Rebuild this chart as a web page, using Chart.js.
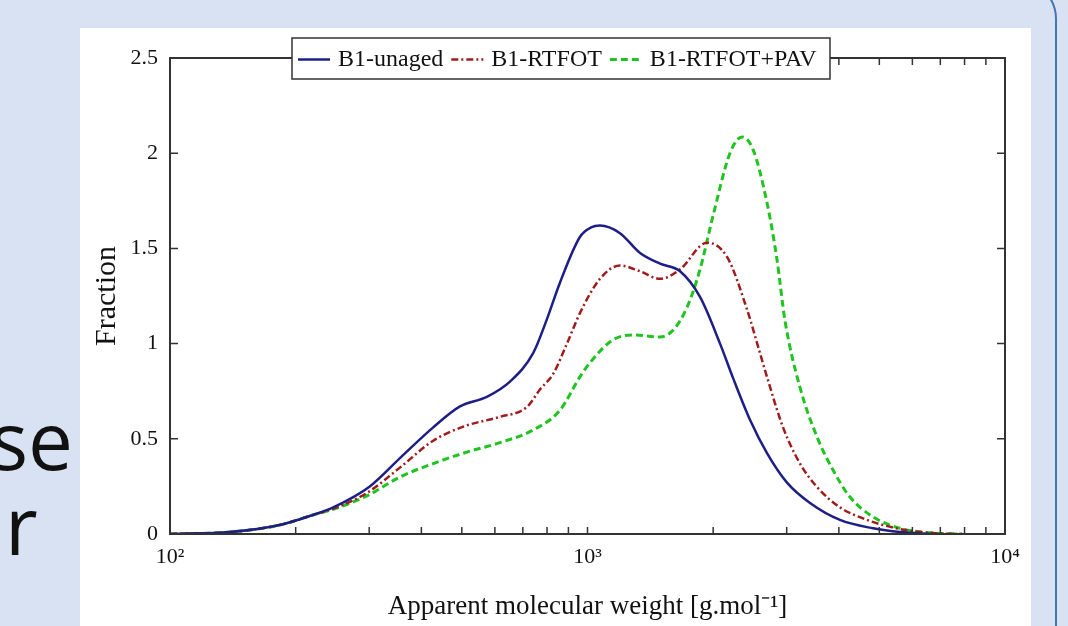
<!DOCTYPE html>
<html>
<head>
<meta charset="utf-8">
<script src="https://cdn.jsdelivr.net/npm/chart.js@4.4.1/dist/chart.umd.min.js"></script>
<style>
  html, body { margin: 0; padding: 0; }
  body { width: 1068px; height: 626px; overflow: hidden; position: relative; background: #d9e2f2; }
  .outline { position: absolute; left: -100px; top: -21px; width: 1157px; height: 800px; box-sizing: border-box;
             border: 2.5px solid #4675b0; border-radius: 40px; }
  .slide-text { position: absolute; font-family: "Open Sans", "Noto Sans", sans-serif; font-size: 80px; line-height: 1; color: #111; white-space: nowrap; }
  .photo { position: absolute; left: 80px; top: 28px; width: 951px; height: 620px; background: #fff; }
  #chart { position: absolute; left: 0; top: 0; }
</style>
</head>
<body>
<div class="outline"></div>
<div class="slide-text" style="right: 995px; top: 399px;">se</div>
<div class="slide-text" style="left: 5px; top: 484px;">r</div>
<div class="photo"></div>
<canvas id="chart" width="1068" height="626"></canvas>
<script>
// apparent molecular weight (g/mol) and fraction
const unagedMw = [100, 139, 183, 220, 246, 301, 356, 427, 495, 574, 652, 741, 800, 859, 959, 1020, 1071, 1196, 1336, 1492, 1666, 1860, 2077, 2231, 2450, 2691, 3005, 3412, 4025, 4829, 5604, 6720];
const unagedFrac = [0, 0.01, 0.047, 0.10, 0.14, 0.25, 0.40, 0.56, 0.67, 0.72, 0.80, 0.95, 1.13, 1.32, 1.56, 1.61, 1.62, 1.58, 1.476, 1.42, 1.38, 1.245, 1.00, 0.82, 0.60, 0.425, 0.27, 0.163, 0.074, 0.03, 0.01, 0];

const rtfotMw = [100, 139, 183, 220, 246, 296, 356, 427, 514, 617, 716, 770, 827, 893, 959, 1071, 1196, 1336, 1492, 1666, 1933, 2159, 2410, 2589, 2691, 2940, 3228, 3546, 4025, 4672, 5604, 6723, 7889];
const rtfotFrac = [0, 0.01, 0.047, 0.10, 0.133, 0.215, 0.35, 0.49, 0.57, 0.615, 0.667, 0.76, 0.84, 1.00, 1.16, 1.34, 1.41, 1.38, 1.34, 1.39, 1.53, 1.455, 1.18, 0.95, 0.825, 0.56, 0.37, 0.247, 0.14, 0.074, 0.026, 0.005, 0];

const pavMw = [100, 139, 183, 220, 246, 296, 356, 427, 514, 617, 741, 859, 959, 1014, 1151, 1285, 1492, 1602, 1731, 1860, 1998, 2194, 2345, 2491, 2691, 2844, 2972, 3228, 3546, 3873, 4254, 4829, 5604, 6723, 7889];
const pavFrac = [0, 0.01, 0.047, 0.10, 0.13, 0.20, 0.30, 0.37, 0.43, 0.48, 0.546, 0.65, 0.825, 0.90, 1.02, 1.045, 1.035, 1.07, 1.19, 1.39, 1.67, 2.00, 2.085, 2.02, 1.74, 1.44, 1.12, 0.77, 0.51, 0.336, 0.194, 0.09, 0.03, 0.005, 0];

const seriesLabels = ["B1-unaged", "B1-RTFOT", "B1-RTFOT+PAV"];
const xTickValues = [100, 200, 300, 400, 500, 600, 700, 800, 900, 1000, 2000, 3000, 4000, 5000, 6000, 7000, 8000, 9000, 10000];
const xTickLabels = { 100: "10²", 1000: "10³", 10000: "10⁴" };
const yTickValues = [0, 0.5, 1, 1.5, 2, 2.5];

const serif = "'Liberation Serif', 'Times New Roman', serif";
const toPoints = (xs, ys) => xs.map((v, i) => ({ x: v, y: ys[i] }));

// box frame, inward ticks on all four sides, boxed legend sitting on the top edge
const frameAndLegend = {
  id: "frameAndLegend",
  afterDatasetsDraw(chart) {
    const { ctx, chartArea: a, scales } = chart;
    ctx.save();
    ctx.strokeStyle = "#333";
    ctx.lineWidth = 2;
    ctx.strokeRect(a.left, a.top, a.right - a.left, a.bottom - a.top);

    ctx.lineWidth = 1.5;
    ctx.beginPath();
    scales.x.ticks.forEach((t) => {
      const px = scales.x.getPixelForValue(t.value);
      ctx.moveTo(px, a.bottom); ctx.lineTo(px, a.bottom - 7);
      ctx.moveTo(px, a.top); ctx.lineTo(px, a.top + 7);
    });
    scales.y.ticks.forEach((t) => {
      const py = scales.y.getPixelForValue(t.value);
      ctx.moveTo(a.left, py); ctx.lineTo(a.left + 8, py);
      ctx.moveTo(a.right, py); ctx.lineTo(a.right - 8, py);
    });
    ctx.stroke();

    // legend
    const box = { left: a.left + 122, top: a.top - 20, width: 538, height: 41 };
    ctx.fillStyle = "#fff";
    ctx.fillRect(box.left, box.top, box.width, box.height);
    ctx.strokeStyle = "#333";
    ctx.lineWidth = 1.5;
    ctx.strokeRect(box.left, box.top, box.width, box.height);

    ctx.font = "24px " + serif;
    ctx.textBaseline = "middle";
    const midY = box.top + box.height / 2 + 1;
    let cx = box.left + 6;
    chart.data.datasets.forEach((ds) => {
      ctx.save();
      ctx.strokeStyle = ds.borderColor;
      ctx.lineWidth = ds.borderWidth;
      ctx.setLineDash(ds.borderDash || []);
      ctx.beginPath();
      ctx.moveTo(cx, midY); ctx.lineTo(cx + 32, midY);
      ctx.stroke();
      ctx.restore();
      cx += 40;
      ctx.fillStyle = "#111";
      ctx.fillText(ds.label, cx, midY);
      cx += ctx.measureText(ds.label).width + 8;
    });
    ctx.restore();
  }
};

new Chart(document.getElementById("chart"), {
  type: "line",
  data: {
    datasets: [
      {
        label: seriesLabels[0],
        data: toPoints(unagedMw, unagedFrac),
        borderColor: "#1d1f86",
        borderWidth: 2.5,
        borderDash: [],
      },
      {
        label: seriesLabels[1],
        data: toPoints(rtfotMw, rtfotFrac),
        borderColor: "#a01c1c",
        borderWidth: 2.5,
        borderDash: [7, 3, 2, 3],
      },
      {
        label: seriesLabels[2],
        data: toPoints(pavMw, pavFrac),
        borderColor: "#20c420",
        borderWidth: 3,
        borderDash: [7, 4],
      },
    ],
  },
  options: {
    responsive: false,
    animation: false,
    devicePixelRatio: 1,
    layout: { padding: { top: 58, right: 63, bottom: 0, left: 0 } },
    elements: {
      point: { radius: 0 },
      line: { cubicInterpolationMode: "monotone", fill: false },
    },
    plugins: {
      legend: { display: false },
      tooltip: { enabled: false },
    },
    scales: {
      x: {
        type: "logarithmic",
        min: 100,
        max: 10000,
        afterBuildTicks: (scale) => {
          scale.ticks = xTickValues.map((v) => ({ value: v }));
        },
        afterFit: (scale) => { scale.height = 92; },
        grid: { display: false, drawTicks: false },
        border: { display: false },
        ticks: {
          autoSkip: false,
          maxRotation: 0,
          padding: 10,
          color: "#111",
          font: { family: serif, size: 22 },
          callback: (v) => xTickLabels[v] || "",
        },
        title: {
          display: true,
          text: "Apparent molecular weight [g.mol⁻¹]",
          color: "#111",
          font: { family: serif, size: 27 },
          padding: { top: 0, bottom: 3 },
        },
      },
      y: {
        min: 0,
        max: 2.5,
        afterBuildTicks: (scale) => {
          scale.ticks = yTickValues.map((v) => ({ value: v }));
        },
        afterFit: (scale) => { scale.width = 170; },
        grid: { display: false, drawTicks: false },
        border: { display: false },
        ticks: {
          padding: 12,
          color: "#111",
          font: { family: serif, size: 22 },
          callback: (v) => String(v),
        },
        title: {
          display: true,
          text: "Fraction",
          color: "#111",
          font: { family: serif, size: 30 },
          padding: { top: 89, bottom: 0 },
        },
      },
    },
  },
  plugins: [frameAndLegend],
});
</script>
</body>
</html>
